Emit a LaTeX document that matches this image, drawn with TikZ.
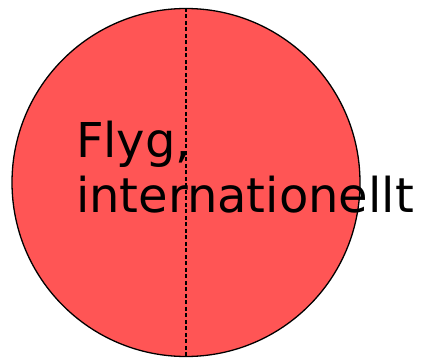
\documentclass[tikz,border=0pt]{standalone}
\usepackage{fontspec}
\setmainfont{DejaVu Sans}
\definecolor{redfill}{HTML}{FF5555}
\begin{document}
\begin{tikzpicture}[x=1pt,y=-1pt,
  disc/.style={circle, draw=black, line width=1.3pt, fill=redfill, inner sep=0pt, minimum size=348pt},
  divider/.style={draw=black, line width=1.2pt, dash pattern=on 4pt off 2.5pt},
  label/.style={inner sep=0pt, align=left, font=\fontsize{48pt}{55pt}\selectfont}]
\useasboundingbox (0,0) rectangle (421,359);
\node[disc] (c) at (186,182.5) {};
\draw[divider] (c.north) -- (c.south);
\node[label, anchor=base west] (t) at (75.8,212) {Flyg,\\internationellt};
\end{tikzpicture}
\end{document}
